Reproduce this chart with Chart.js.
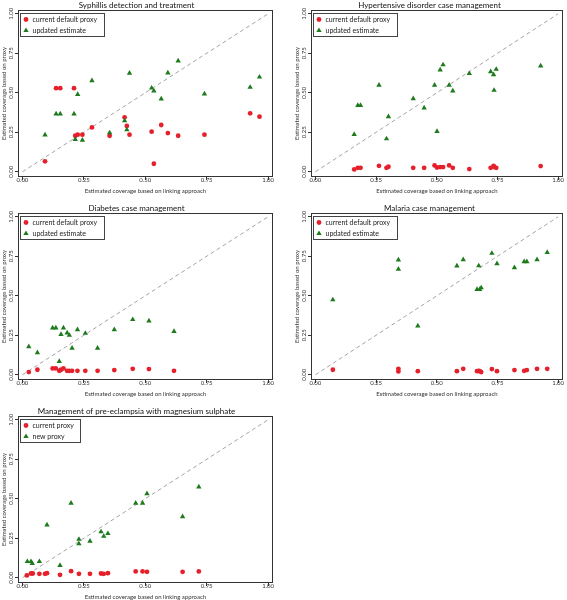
<!DOCTYPE html>
<html>
<head>
<meta charset="utf-8">
<script src="https://cdn.jsdelivr.net/npm/chart.js@4.4.1/dist/chart.umd.min.js"></script>
<style>
  html, body { margin: 0; padding: 0; background: #fff; overflow: hidden; }
  body { width: 567px; height: 600px; position: relative; }
  .panel { position: absolute; }
  .panel canvas { display: block; }
</style>
</head>
<body>
<div class="panel" style="left:0px;top:0px"><canvas id="c1" width="283" height="196"></canvas></div>
<div class="panel" style="left:293px;top:0px"><canvas id="c2" width="274" height="196"></canvas></div>
<div class="panel" style="left:0px;top:203px"><canvas id="c3" width="283" height="196"></canvas></div>
<div class="panel" style="left:293px;top:203px"><canvas id="c4" width="274" height="196"></canvas></div>
<div class="panel" style="left:0px;top:406px"><canvas id="c5" width="283" height="196"></canvas></div>
<script>
// tick values shared by both axes of every panel
const tickValues = [0, 0.25, 0.5, 0.75, 1];
const diagonal = [0, 1];

const titles = [
  "Syphillis detection and treatment",
  "Hypertensive disorder case management",
  "Diabetes case management",
  "Malaria case management",
  "Management of pre-eclampsia with magnesium sulphate"
];
const legendDefault = ["current default proxy", "updated estimate"];
const legendPre = ["current proxy", "new proxy"];
const xTitle = "Estimated coverage based on linking approach";
const yTitle = "Estimated coverage based on proxy";

// Syphilis
const syphX = [0.092, 0.137, 0.154, 0.21, 0.215, 0.225, 0.244, 0.283, 0.355, 0.416, 0.425, 0.436, 0.526, 0.535, 0.565, 0.592, 0.634, 0.741, 0.927, 0.965];
const syphCurrent = [0.066, 0.529, 0.529, 0.529, 0.228, 0.235, 0.235, 0.281, 0.228, 0.345, 0.29, 0.235, 0.254, 0.051, 0.296, 0.245, 0.228, 0.235, 0.37, 0.349];
const syphUpdated = [0.233, 0.366, 0.366, 0.366, 0.205, 0.49, 0.2, 0.577, 0.247, 0.323, 0.266, 0.624, 0.53, 0.512, 0.461, 0.626, 0.702, 0.493, 0.535, 0.6];

// Hypertensive disorder
const hypX = [0.16, 0.175, 0.186, 0.262, 0.293, 0.301, 0.403, 0.448, 0.491, 0.501, 0.514, 0.526, 0.551, 0.566, 0.634, 0.722, 0.734, 0.736, 0.745, 0.928];
const hypCurrent = [0.015, 0.025, 0.025, 0.038, 0.025, 0.032, 0.025, 0.025, 0.04, 0.027, 0.03, 0.03, 0.04, 0.025, 0.017, 0.025, 0.038, 0.03, 0.025, 0.036];
const hypUpdated = [0.237, 0.42, 0.42, 0.548, 0.209, 0.349, 0.463, 0.404, 0.548, 0.256, 0.645, 0.677, 0.548, 0.512, 0.622, 0.634, 0.615, 0.516, 0.649, 0.67];

// Diabetes
const diabX = [0.026, 0.061, 0.123, 0.136, 0.15, 0.157, 0.167, 0.182, 0.191, 0.202, 0.224, 0.256, 0.306, 0.374, 0.449, 0.515, 0.617];
const diabCurrent = [0.017, 0.032, 0.04, 0.04, 0.025, 0.032, 0.04, 0.025, 0.025, 0.025, 0.025, 0.025, 0.025, 0.03, 0.038, 0.036, 0.025];
const diabUpdated = [0.178, 0.14, 0.297, 0.297, 0.085, 0.256, 0.297, 0.265, 0.25, 0.169, 0.286, 0.263, 0.169, 0.286, 0.35, 0.341, 0.275];

// Malaria
const malX = [0.072, 0.342, 0.342, 0.422, 0.583, 0.609, 0.666, 0.673, 0.677, 0.683, 0.727, 0.748, 0.82, 0.86, 0.871, 0.913, 0.955];
const malCurrent = [0.032, 0.038, 0.021, 0.023, 0.023, 0.038, 0.023, 0.025, 0.023, 0.017, 0.036, 0.023, 0.03, 0.025, 0.03, 0.038, 0.038];
const malUpdated = [0.475, 0.727, 0.669, 0.309, 0.689, 0.729, 0.54, 0.69, 0.54, 0.551, 0.769, 0.703, 0.678, 0.716, 0.716, 0.729, 0.775];

// Pre-eclampsia
const preXCurrent = [0.018, 0.035, 0.042, 0.069, 0.092, 0.1, 0.153, 0.198, 0.23, 0.275, 0.32, 0.331, 0.348, 0.461, 0.489, 0.507, 0.652, 0.718];
const preCurrent = [0.015, 0.027, 0.027, 0.025, 0.025, 0.029, 0.019, 0.042, 0.025, 0.025, 0.027, 0.025, 0.029, 0.04, 0.04, 0.038, 0.038, 0.04];
const preXNew = [0.02, 0.035, 0.04, 0.069, 0.1, 0.153, 0.198, 0.23, 0.23, 0.275, 0.32, 0.331, 0.348, 0.461, 0.489, 0.507, 0.652, 0.718];
const preNew = [0.103, 0.103, 0.09, 0.103, 0.335, 0.078, 0.472, 0.244, 0.215, 0.232, 0.291, 0.263, 0.28, 0.472, 0.472, 0.533, 0.387, 0.575];

const RED = "#e5202b";
const GREEN = "#1d7a1d";
const FONT = "Lato";

function pts(xs, ys) {
  return xs.map((x, i) => ({ x: x, y: ys[i] }));
}

// box around the plot region
const frame = {
  id: "frame",
  afterDraw(chart) {
    const { ctx, chartArea: a } = chart;
    ctx.save();
    ctx.strokeStyle = "#333";
    ctx.lineWidth = 1;
    ctx.strokeRect(Math.round(a.left) + 0.5, Math.round(a.top) + 0.5, Math.round(a.right - a.left) - 1, Math.round(a.bottom - a.top) - 1);
    ctx.restore();
  }
};

// stata style boxed legend inside the top left corner
const boxLegend = {
  id: "boxLegend",
  afterDraw(chart) {
    const { ctx, chartArea: a } = chart;
    const items = chart.data.datasets.filter(d => d.inLegend);
    ctx.save();
    ctx.font = "7px " + FONT;
    const textW = Math.max(...items.map(d => ctx.measureText(d.label).width));
    const x0 = Math.round(a.left) + 2, y0 = Math.round(a.top) + 3;
    const w = Math.round(textW + 19), h = 23;
    ctx.fillStyle = "#fff";
    ctx.fillRect(x0, y0, w, h);
    ctx.strokeStyle = "#444";
    ctx.lineWidth = 1;
    ctx.strokeRect(x0 + 0.5, y0 + 0.5, w, h);
    items.forEach((d, i) => {
      const cy = y0 + 6.5 + i * 11;
      ctx.fillStyle = d.backgroundColor;
      ctx.strokeStyle = d.borderColor;
      Chart.helpers.drawPoint(ctx, { pointStyle: d.pointStyle, radius: d.pointRadius, rotation: 0, borderWidth: 0 }, x0 + 6, cy);
      ctx.fillStyle = "#222";
      ctx.textBaseline = "middle";
      ctx.textAlign = "left";
      ctx.fillText(d.label, x0 + 12.5, cy);
    });
    ctx.restore();
  }
};

function axis(title, isY) {
  return {
    type: "linear",
    min: isY ? -0.033 : -0.018,
    max: isY ? 1.024 : 1.02,
    afterBuildTicks: s => { s.ticks = tickValues.map(v => ({ value: v })); },
    afterFit: s => { if (isY) s.width = 18; else s.height = 19; },
    grid: { drawOnChartArea: false, drawTicks: true, tickLength: 3, color: "#333" },
    border: { display: false },
    ticks: {
      font: { family: FONT, size: 6 },
      color: "#333",
      padding: isY ? -2 : 0,
      minRotation: isY ? 90 : 0,
      maxRotation: isY ? 90 : 0,
      crossAlign: "center",
      callback: v => v.toFixed(2)
    },
    title: {
      display: true,
      text: title,
      font: { family: FONT, size: 6 },
      color: "#333",
      padding: isY ? { top: 0, bottom: 0 } : { top: 0, bottom: 1 }
    }
  };
}

function makePanel(id, title, legend, xCur, yCur, xNew, yNew, padRight) {
  new Chart(document.getElementById(id), {
    type: "scatter",
    data: {
      datasets: [
        { label: legend[0], inLegend: true, data: pts(xCur, yCur), pointStyle: "circle", pointRadius: 2.4, backgroundColor: RED, borderColor: RED, borderWidth: 0, order: 2 },
        { label: legend[1], inLegend: true, data: pts(xNew, yNew), pointStyle: "triangle", pointRadius: 3.1, backgroundColor: GREEN, borderColor: GREEN, borderWidth: 0, order: 1 },
        { type: "line", label: "diag", data: pts(diagonal, diagonal), borderColor: "#9a9a9a", borderWidth: 0.9, borderDash: [4, 3], pointRadius: 0, fill: false, order: 3 }
      ]
    },
    options: {
      responsive: false,
      animation: false,
      events: [],
      layout: { padding: { left: 0, right: padRight, top: 0, bottom: 0 } },
      scales: { x: axis(xTitle, false), y: axis(yTitle, true) },
      plugins: {
        legend: { display: false },
        tooltip: { enabled: false },
        title: {
          display: true,
          text: title,
          color: "#111",
          font: { family: FONT, size: 8, weight: "normal", lineHeight: 1.25 },
          padding: { top: 0, bottom: 0 }
        }
      }
    },
    plugins: [frame, boxLegend]
  });
}

makePanel("c1", titles[0], legendDefault, syphX, syphCurrent, syphX, syphUpdated, 10);
makePanel("c2", titles[1], legendDefault, hypX, hypCurrent, hypX, hypUpdated, 1);
makePanel("c3", titles[2], legendDefault, diabX, diabCurrent, diabX, diabUpdated, 10);
makePanel("c4", titles[3], legendDefault, malX, malCurrent, malX, malUpdated, 1);
makePanel("c5", titles[4], legendPre, preXCurrent, preCurrent, preXNew, preNew, 10);
</script>
</body>
</html>
